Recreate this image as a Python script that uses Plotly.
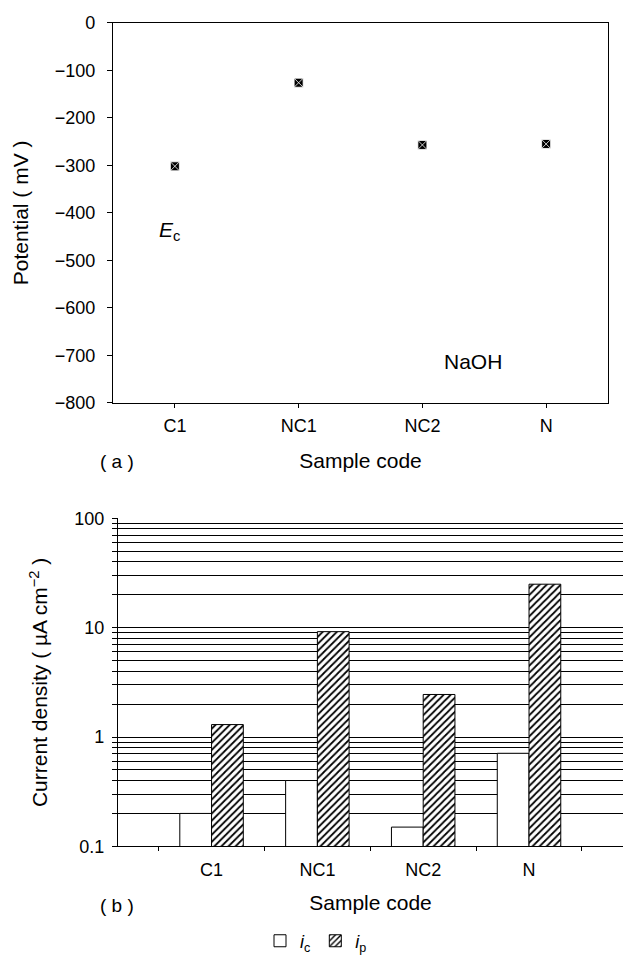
import plotly.graph_objects as go

# ---------------- data ----------------
samples = ["C1", "NC1", "NC2", "N"]
potential_mv = [-302, -126, -257, -255]          # E_c in NaOH (mV)
ic_values = [0.2, 0.4, 0.15, 0.71]               # i_c (uA cm^-2)
ip_values = [1.3, 9.2, 2.45, 25.0]               # i_p (uA cm^-2)

potential_ticks = [0, -100, -200, -300, -400, -500, -600, -700, -800]
density_major_ticks = [0.1, 1, 10, 100]
density_major_text = ["0.1", "1", "10", "100"]
density_minor_ticks = [0.2, 0.3, 0.4, 0.5, 0.6, 0.7, 0.8, 0.9,
                       2, 3, 4, 5, 6, 7, 8, 9,
                       20, 30, 40, 50, 60, 70, 80, 90]

W, H = 624, 960
FONT = "Liberation Sans, Arial, Helvetica, sans-serif"

positions = list(range(len(samples)))
boundaries = [p - 0.5 for p in positions] + [positions[-1] + 0.5]


def fx(p):
    return p / W


def fy(p):
    return 1 - p / H


def tfont(size):
    return dict(family=FONT, size=size, color="black")


fig = go.Figure()

fig.add_trace(go.Scatter(
    x=positions, y=potential_mv, mode="markers",
    marker=dict(symbol="square-x", size=9, color="black",
                line=dict(color="white", width=0.8)),
    xaxis="x", yaxis="y", showlegend=False))

fig.add_trace(go.Bar(
    x=positions, y=ic_values, name="<i>i</i><sub>c</sub>",
    marker=dict(color="white", line=dict(color="black", width=1)),
    xaxis="x2", yaxis="y2"))

fig.add_trace(go.Bar(
    x=positions, y=ip_values, name="<i>i</i><sub>p</sub>",
    marker=dict(color="white", line=dict(color="black", width=1),
                pattern=dict(shape="/", fgcolor="black", bgcolor="white",
                             fgopacity=1, size=5, solidity=0.35)),
    xaxis="x2", yaxis="y2"))

axis_common = dict(showline=True, linecolor="black", linewidth=1.3,
                   tickcolor="black", tickfont=tfont(18), zeroline=False,
                   automargin=False)

fig.update_layout(
    width=W, height=H,
    margin=dict(l=0, r=0, t=0, b=0),
    paper_bgcolor="white", plot_bgcolor="white",
    font=tfont(18),
    barmode="group", bargap=0.4, bargroupgap=0,
    xaxis=dict(domain=[fx(113), fx(608)], anchor="y",
               range=[-0.5, 3.5], tickvals=positions, ticktext=samples,
               ticks="outside", ticklen=4, mirror=True, showgrid=False,
               ticklabelstandoff=3,
               title=dict(text="Sample code", font=tfont(21), standoff=17),
               **axis_common),
    yaxis=dict(domain=[fy(404), fy(23)], anchor="x", range=[-800, 0],
               tickvals=potential_ticks, ticks="outside", ticklen=5,
               mirror=True, showgrid=False, ticklabelstandoff=8,
               title=dict(text="Potential ( mV )", font=tfont(21), standoff=20),
               **axis_common),
    xaxis2=dict(domain=[fx(118), fx(623)], anchor="y2",
                range=[-0.884, 3.888], tickvals=positions, ticktext=samples,
                ticks="", showgrid=False, ticklabelstandoff=7,
                minor=dict(tickvals=boundaries, ticks="outside", ticklen=4,
                           tickcolor="black", showgrid=False),
                title=dict(text="Sample code", font=tfont(21), standoff=16),
                **axis_common),
    yaxis2=dict(domain=[fy(849), fy(520)], anchor="x2", type="log",
                range=[-1, 2], tickvals=density_major_ticks,
                ticktext=density_major_text, ticks="outside", ticklen=5,
                showgrid=True, gridcolor="black", gridwidth=1,
                ticklabelstandoff=4,
                minor=dict(tickvals=density_minor_ticks, ticks="outside",
                           ticklen=5, tickcolor="black", showgrid=True,
                           gridcolor="black", gridwidth=1),
                title=dict(text="Current density ( µA cm<sup>−2</sup> )",
                           font=tfont(21), standoff=20),
                **axis_common),
    legend=dict(orientation="h", x=fx(316), xanchor="center",
                y=fy(944), yanchor="middle",
                font=tfont(18), bgcolor="rgba(0,0,0,0)"),
)

fig.add_annotation(text="( a )", x=fx(117), y=fy(463), xref="paper",
                   yref="paper", showarrow=False, font=tfont(19),
                   xanchor="center", yanchor="middle")
fig.add_annotation(text="( b )", x=fx(117), y=fy(908), xref="paper",
                   yref="paper", showarrow=False, font=tfont(19),
                   xanchor="center", yanchor="middle")
fig.add_annotation(text="<i>E</i><sub>c</sub>", x=fx(170), y=fy(232),
                   xref="paper", yref="paper", showarrow=False,
                   font=tfont(21), xanchor="center", yanchor="middle")
fig.add_annotation(text="NaOH", x=fx(473), y=fy(363), xref="paper",
                   yref="paper", showarrow=False, font=tfont(21),
                   xanchor="center", yanchor="middle")

fig.write_html(
    "out.html",
    config={"displayModeBar": False},
    post_script="document.body.style.margin='0';"
                "document.body.style.overflow='hidden';")
